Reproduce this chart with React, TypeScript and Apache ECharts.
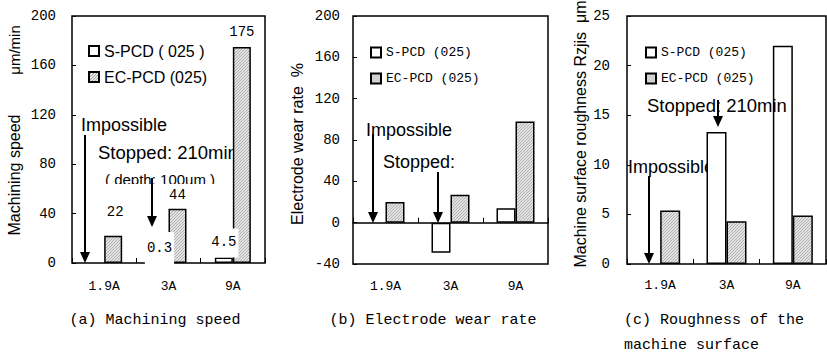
import React, { useEffect, useRef } from 'react';
import * as echarts from 'echarts';

// ---- data ----
const categories = ['1.9A', '3A', '9A'];
// (a) machining speed, µm/min (S-PCD impossible at 1.9A)
const speedS: (number | null)[] = [null, 0.3, 4.5];
const speedEC = [22, 44, 175];
// (b) electrode wear rate, %
const wearS: (number | null)[] = [null, -29, 14];
const wearEC = [20, 27, 98];
// (c) machine surface roughness Rzjis, µm
const roughS: (number | null)[] = [null, 13.3, 22];
const roughEC = [5.4, 4.3, 4.9];
// axis ranges [min, max, interval]
const speedRange = [0, 200, 40];
const wearRange = [-40, 200, 40];
const roughRange = [0, 25, 5];
// names
const nameS_a = 'S-PCD ( 025 )';
const nameS = 'S-PCD (025)';
const nameEC = 'EC-PCD (025)';

const MONO = 'Liberation Mono';
const SANS = 'Liberation Sans';

function makeHatch() {
  const cv = document.createElement('canvas');
  cv.width = 3;
  cv.height = 3;
  const ctx = cv.getContext('2d')!;
  ctx.fillStyle = '#e2e2e2';
  ctx.fillRect(0, 0, 3, 3);
  ctx.strokeStyle = '#a4a4a4';
  ctx.lineWidth = 0.8;
  ctx.beginPath();
  ctx.moveTo(0, 3); ctx.lineTo(3, 0);
  ctx.moveTo(-1, 1); ctx.lineTo(1, -1);
  ctx.moveTo(2, 4); ctx.lineTo(4, 2);
  ctx.stroke();
  return { image: cv, repeat: 'repeat' as const };
}

function arrow(x: number, y1: number, y2: number, z = 1) {
  return {
    type: 'group',
    z,
    children: [
      { type: 'line', z, shape: { x1: x, y1, x2: x, y2: y2 - 8 }, style: { stroke: '#000', lineWidth: 2 } },
      { type: 'polygon', z, shape: { points: [[x - 5, y2 - 11], [x + 5, y2 - 11], [x, y2]] }, style: { fill: '#000' } },
    ],
  };
}

function txt(x: number, y: number, text: string, font: string, size: number, extra: any = {}) {
  return {
    type: 'text',
    z: 1,
    x,
    y,
    ...extra,
    style: { text, fontFamily: font, fontSize: size, fill: '#000', align: 'left', verticalAlign: 'middle', ...(extra.style || {}) },
  };
}

export default function App() {
  const ref = useRef<HTMLDivElement>(null);
  useEffect(() => {
    if (!ref.current) return;
    const chart = echarts.init(ref.current, undefined, { renderer: 'svg' });
    const hatch = makeHatch();
    const borderStyle = { borderColor: '#000', borderWidth: 1.5 };
    const gridBase = { show: true, borderColor: '#000', borderWidth: 1.5, backgroundColor: 'transparent' };

    const yAxisBase = (r: number[], margin: number, gridIndex: number) => ({
      type: 'value',
      gridIndex,
      min: r[0],
      max: r[1],
      interval: r[2],
      splitLine: { show: false },
      axisLine: { show: false },
      axisTick: { show: true, inside: true, length: 4, lineStyle: { color: '#000' } },
      axisLabel: { margin, fontFamily: MONO, fontSize: 14, color: '#000' },
    });
    const xAxisBase = (gridIndex: number, margin: number) => ({
      type: 'category',
      gridIndex,
      data: categories,
      position: 'bottom',
      axisLine: { show: false, onZero: false },
      axisTick: { show: true, inside: true, length: 5, lineStyle: { color: '#000' } },
      axisLabel: { margin, fontFamily: MONO, fontSize: 13, color: '#000' },
    });

    const valLabel = { fontFamily: MONO, fontSize: 14, color: '#000', lineHeight: 14 };

    const speedSData = speedS.map((v, i) => {
      if (v == null) return null;
      const label =
        i === 1
          ? { show: true, position: 'top', distance: 0, offset: [0, 2], backgroundColor: '#fff', padding: [9, 2, 9, 2], ...valLabel }
          : { show: true, position: 'top', distance: 0, offset: [-5, 0], backgroundColor: '#fff', padding: [7, 2, 8, 12], ...valLabel };
      return { value: v, label };
    });
    const ecDist = [17, 7, 8];
    const speedECData = speedEC.map((v, i) => ({
      value: v,
      label: { show: true, position: 'top', distance: ecDist[i], offset: [i === 0 ? 2 : 0, 0], ...valLabel },
    }));

    const legendBase = {
      orient: 'vertical',
      itemWidth: 10,
      itemHeight: 10,
      icon: 'rect',
      selectedMode: false,
      padding: 0,
    };

    const barBase = { type: 'bar', barGap: '0%', z: 10 };

    const option: any = {
      animation: false,
      grid: [
        { ...gridBase, left: 72, top: 16, width: 193, height: 247 },
        { ...gridBase, left: 353, top: 16, width: 195, height: 248 },
        { ...gridBase, left: 627, top: 16, width: 199, height: 248 },
      ],
      xAxis: [
        xAxisBase(0, 17),
        { ...xAxisBase(1, 16), axisTick: { show: false } },
        {
          type: 'category',
          gridIndex: 1,
          data: categories,
          position: 'bottom',
          axisLine: { show: true, onZero: true, lineStyle: { color: '#000', width: 1.5 } },
          axisTick: { show: true, inside: true, length: 5, lineStyle: { color: '#000' } },
          axisLabel: { show: false },
        },
        xAxisBase(2, 15),
      ],
      yAxis: [yAxisBase(speedRange, 16, 0), yAxisBase(wearRange, 13, 1), yAxisBase(roughRange, 17, 2)],
      legend: [
        {
          ...legendBase,
          data: [nameS_a, nameEC],
          left: 88,
          top: 43,
          itemGap: 10,
          textStyle: { fontFamily: SANS, fontSize: 16, color: '#000' },
        },
        {
          ...legendBase,
          data: [nameS, nameEC],
          left: 370,
          top: 46,
          itemGap: 13,
          textStyle: { fontFamily: MONO, fontSize: 13, color: '#000' },
        },
        {
          ...legendBase,
          data: [nameS, nameEC],
          left: 645,
          top: 46,
          itemGap: 13,
          textStyle: { fontFamily: MONO, fontSize: 13, color: '#000' },
        },
      ],
      series: [
        { ...barBase, name: nameS_a, xAxisIndex: 0, yAxisIndex: 0, barWidth: 18, itemStyle: { color: '#fff', ...borderStyle }, data: speedSData },
        { ...barBase, name: nameEC, xAxisIndex: 0, yAxisIndex: 0, barWidth: 18, itemStyle: { color: hatch, ...borderStyle }, data: speedECData },
        { ...barBase, name: nameS, xAxisIndex: 1, yAxisIndex: 1, barWidth: 19, itemStyle: { color: '#fff', ...borderStyle }, data: wearS },
        { ...barBase, name: nameEC, xAxisIndex: 1, yAxisIndex: 1, barWidth: 19, itemStyle: { color: hatch, ...borderStyle }, data: wearEC },
        { ...barBase, name: nameS, xAxisIndex: 3, yAxisIndex: 2, barWidth: 20, itemStyle: { color: '#fff', ...borderStyle }, data: roughS },
        { ...barBase, name: nameEC, xAxisIndex: 3, yAxisIndex: 2, barWidth: 20, itemStyle: { color: hatch, ...borderStyle }, data: roughEC },
      ],
      graphic: [
        // axis names
        txt(14, 175, 'Machining speed', SANS, 16, { rotation: Math.PI / 2, style: { align: 'center' } }),
        txt(14, 50, 'μm/min', SANS, 15, { rotation: Math.PI / 2, style: { align: 'center' } }),
        txt(297, 144, 'Electrode wear rate  %', SANS, 16, { rotation: Math.PI / 2, style: { align: 'center' } }),
        txt(580, 134, 'Machine surface roughness Rzjis  μm', SANS, 16, { rotation: Math.PI / 2, style: { align: 'center' } }),
        // panel a annotations
        txt(81, 125, 'Impossible', SANS, 18),
        txt(98, 152, 'Stopped: 210min', SANS, 18.5),
        txt(105, 179.5, '( depth: 100um )', SANS, 15),
        { type: 'rect', z: 1, shape: { x: 100, y: 184, width: 128, height: 7 }, style: { fill: '#fff' } },
        arrow(85, 135, 263),
        arrow(152, 178, 227),
        // panel b annotations
        txt(366, 130, 'Impossible', SANS, 18),
        txt(383, 162, 'Stopped:', SANS, 18),
        arrow(373, 134, 223),
        arrow(438, 172, 223),
        // panel c annotations
        txt(647, 105, 'Stopped: 210min', SANS, 18.5, { z: 20 }),
        txt(628, 167, 'Impossible', SANS, 18),
        arrow(718, 100, 127, 20),
        arrow(649, 176, 264),
        // captions
        txt(155, 320, '(a) Machining speed', MONO, 15, { style: { align: 'center' } }),
        txt(433, 320, '(b) Electrode wear rate', MONO, 15, { style: { align: 'center' } }),
        txt(624, 320, '(c) Roughness of the', MONO, 15),
        txt(624, 345, 'machine surface', MONO, 15),
      ],
    };
    chart.setOption(option);
    return () => chart.dispose();
  }, []);
  return <div ref={ref} style={{ position: 'absolute', left: 0, top: 0, width: 827, height: 355, background: '#fff' }} />;
}
